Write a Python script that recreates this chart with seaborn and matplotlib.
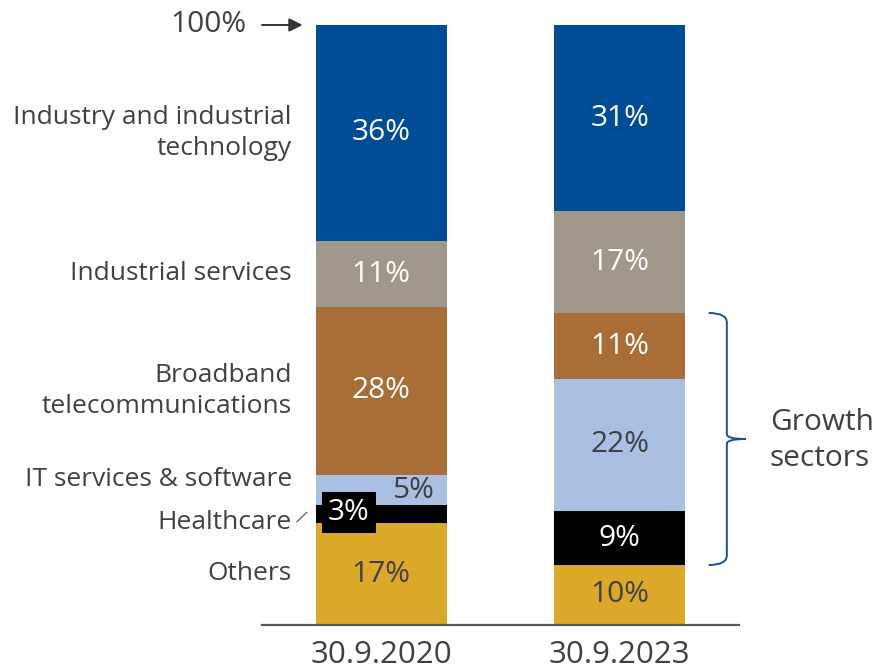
import matplotlib
matplotlib.use("Agg")
import matplotlib.pyplot as plt
from matplotlib.path import Path
from matplotlib.patches import PathPatch
import numpy as np
import pandas as pd
import seaborn as sns

# Portfolio composition by sector (share of total, %)
dates = ["30.9.2020", "30.9.2023"]
sectors = [
    "Industry and industrial\ntechnology",
    "Industrial services",
    "Broadband\ntelecommunications",
    "IT services & software",
    "Healthcare",
    "Others",
]
share_2020 = [36, 11, 28, 5, 3, 17]
share_2023 = [31, 17, 11, 22, 9, 10]
colors = ["#004C97", "#A0978A", "#A96E38", "#AAC0E2", "#000000", "#DBA82A"]
value_text_colors = ["white", "white", "white", "#404040", "white", "#404040"]

sns.set_style("white")
plt.rcParams["font.family"] = ["Open Sans", "DejaVu Sans"]
TXT = "#404040"
FS_LABEL = 19
FS_VALUE = 21.5

fig = plt.figure(figsize=(8.78, 6.68), dpi=100)
ax = fig.add_axes([262 / 878, 43 / 668, 477 / 878, 600 / 668])

# cumulative tops, stacking from the bottom (Others) upward
shares = np.array([share_2020, share_2023], dtype=float)  # (date, sector)
tops = np.cumsum(shares[:, ::-1], axis=1)[:, ::-1]       # top of each sector
bottoms = tops - shares

# draw tallest cumulative first so lower layers sit on top
for i, sec in enumerate(sectors):
    layer = pd.DataFrame({"date": dates, "top": tops[:, i]})
    sns.barplot(data=layer, x="date", y="top", color=colors[i], saturation=1,
                width=0.55, errorbar=None, ax=ax, zorder=2 + i, linewidth=0,
                edgecolor="none")

ax.set_xlim(-0.5, 1.5)
ax.set_ylim(0, 100)
ax.set_xlabel("")
ax.set_ylabel("")
ax.set_yticks([])
for s in ["top", "left", "right"]:
    ax.spines[s].set_visible(False)
ax.spines["bottom"].set_color("#595959")
ax.spines["bottom"].set_linewidth(1.6)
ax.spines["bottom"].set_zorder(20)
ax.tick_params(axis="x", length=0, pad=11, labelsize=22.5, labelcolor=TXT)

# value labels inside the segments
for d in range(2):
    for i in range(len(sectors)):
        v = shares[d, i]
        yc = (tops[d, i] + bottoms[d, i]) / 2
        label = f"{int(v)}%"
        if d == 0 and sectors[i] == "IT services & software":
            ax.text(0.132, yc, label, ha="center", va="center", fontsize=FS_VALUE,
                    color=value_text_colors[i], zorder=30)
        elif d == 0 and sectors[i] == "Healthcare":
            ax.text(-0.136, yc + 0.3, label, ha="center", va="center",
                    fontsize=FS_VALUE, color="white", zorder=31,
                    bbox=dict(boxstyle="square,pad=0.2", fc="black", ec="none"))
        else:
            ax.text(d, yc, label, ha="center", va="center", fontsize=FS_VALUE,
                    color=value_text_colors[i], zorder=30)

# sector names at the left of the first bar
label_shift = {"IT services & software": 1.8, "Healthcare": -1.4}
for i, sec in enumerate(sectors):
    yc = (tops[0, i] + bottoms[0, i]) / 2 + label_shift.get(sec, 0)
    ax.text(-0.375, yc, sec, ha="right", va="center", fontsize=FS_LABEL,
            color=TXT, linespacing=1.3, clip_on=False)

# small leader from "Healthcare" toward its box
ax.plot([-0.354, -0.312], [17.2, 18.8], color="#595959", lw=0.9, clip_on=False)

# 100% marker with arrow
ax.text(-0.565, 100, "100%", ha="right", va="center", fontsize=FS_VALUE,
        color=TXT, clip_on=False)
ax.annotate("", xy=(-0.33, 100), xytext=(-0.50, 100),
            arrowprops=dict(arrowstyle="-|>", color="#333333", lw=1.4,
                            mutation_scale=20, shrinkA=0, shrinkB=0),
            annotation_clip=False)

# brace around the growth sectors of 2023
lo = bottoms[1, sectors.index("Healthcare")]
hi = tops[1, sectors.index("Broadband\ntelecommunications")]
mid = (lo + hi) / 2
x0, x1, xt = 1.373, 1.449, 1.528
r = 1.6
verts = [
    (x0, hi), (x1, hi), (x1, hi - r),
    (x1, mid + 0.8), (x1, mid), (xt, mid),
    (x1, mid), (x1, mid - 0.8),
    (x1, lo + r), (x1, lo), (x0, lo),
]
codes = [
    Path.MOVETO, Path.CURVE3, Path.CURVE3,
    Path.LINETO, Path.CURVE3, Path.CURVE3,
    Path.CURVE3, Path.CURVE3,
    Path.LINETO, Path.CURVE3, Path.CURVE3,
]
ax.add_patch(PathPatch(Path(verts, codes), fill=False, ec="#1F4E99", lw=1.4,
                       clip_on=False, zorder=25))
ax.text(1.629, mid - 0.2, "Growth\nsectors", ha="left", va="center",
        fontsize=FS_VALUE, color=TXT, linespacing=1.3, clip_on=False)

fig.savefig("out.png", dpi=100)
